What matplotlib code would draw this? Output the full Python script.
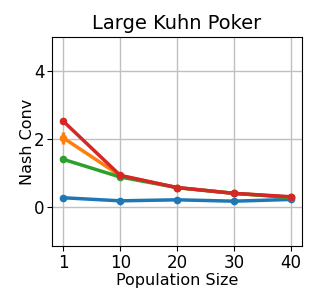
import matplotlib
matplotlib.use("Agg")
import matplotlib.pyplot as plt
import numpy as np

pop_sizes = ["1", "10", "20", "30", "40"]
blue_vals = [0.27, 0.18, 0.21, 0.17, 0.22]
blue_err = [0.03, 0.02, 0.02, 0.02, 0.02]
orange_vals = [2.03, 0.92, 0.57, 0.40, 0.29]
orange_err = [0.18, 0.03, 0.02, 0.02, 0.02]
green_vals = [1.40, 0.88, 0.57, 0.40, 0.28]
green_err = [0.04, 0.02, 0.02, 0.02, 0.02]
red_vals = [2.52, 0.93, 0.57, 0.40, 0.30]
red_err = [0.04, 0.03, 0.02, 0.02, 0.02]

x = np.arange(len(pop_sizes))

fig, ax = plt.subplots(figsize=(3.19, 3.06), dpi=100)
series = [(blue_vals, blue_err, "tab:blue"), (orange_vals, orange_err, "tab:orange"),
          (green_vals, green_err, "tab:green"), (red_vals, red_err, "tab:red")]
for vals, err, c in series:
    ax.errorbar(x, vals, yerr=err, color=c, marker="o", markersize=4.5, linewidth=2.5, elinewidth=2.5)

ax.set_xticks(x)
ax.set_xticklabels(pop_sizes)
ax.set_xlim(-0.2, 4.2)
ax.set_ylim(-1.15, 5.0)
ax.set_yticks([0, 2, 4])
ax.tick_params(labelsize=12, pad=2)
ax.grid(True, color="#c0c0c0", linewidth=1)
ax.set_xlabel("Population Size", fontsize=11.5, labelpad=1)
ax.set_ylabel("Nash Conv", fontsize=11.5, labelpad=-1)
ax.set_title("Large Kuhn Poker", fontsize=14)
fig.subplots_adjust(left=0.163, right=0.947, top=0.879, bottom=0.196)
fig.savefig("out.png")
